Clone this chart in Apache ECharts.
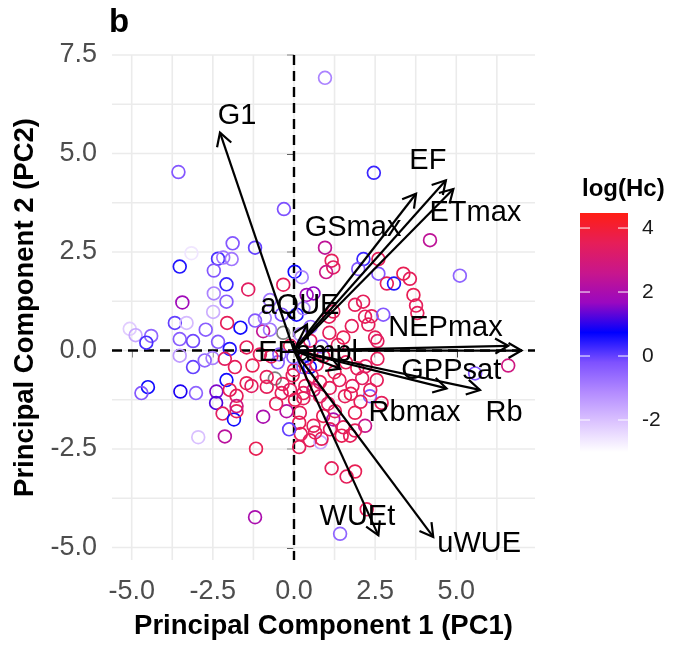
<!DOCTYPE html>
<html><head><meta charset="utf-8">
<script src="https://cdn.jsdelivr.net/npm/echarts@6/dist/echarts.min.js"></script>
<style>html,body{margin:0;padding:0;background:#fff}#c{width:677px;height:645px}</style>
</head><body><div id="c"></div>
<script>
// ---- data ----
const pc1 = [0.955,-3.56,-0.31,2.46,4.19,5.11,0.02,-1.89,-1.20,-3.16,-2.34,-2.18,-1.92,-3.52,-2.47,-2.08,-1.41,-0.33,-2.47,-3.44,-2.08,-2.49,-3.67,-3.31,-2.06,-1.65,-2.72,-5.06,-4.88,-4.40,-4.55,-3.52,-3.11,-2.34,-1.98,-1.46,-0.95,-0.74,-3.52,-3.11,-2.75,-2.51,-2.13,-1.82,-1.28,-0.04,-4.50,-4.70,-3.50,-3.02,-2.08,-2.39,-1.98,-1.77,-1.46,-1.31,-0.84,-2.40,-2.20,-1.85,-1.77,-0.95,-0.23,-2.95,-2.13,-1.17,0.16,0.21,0.16,-1.20,-0.38,-0.12,0.03,0.29,-1.77,-0.84,0.00,-0.90,-1.20,-0.74,-0.38,0.08,0.39,0.29,0.19,0.29,-0.12,-0.02,0.29,0.24,0.955,1.16,1.21,0.99,2.14,1.98,2.60,2.60,2.86,3.08,3.37,3.57,3.68,3.76,0.60,1.21,1.88,2.29,2.39,2.75,1.78,1.52,1.09,2.50,2.57,2.57,5.58,6.60,0.49,0.18,0.49,0.82,0.85,0.60,0.90,1.21,1.52,1.73,1.88,2.19,2.34,2.70,1.16,1.62,1.88,2.24,1.42,0.29,0.80,1.57,0.65,1.26,1.11,1.47,1.88,1.40,1.80,2.10,2.35,1.75,1.10,0.80,0.60,0.40,0.70,0.90,0.35,0.55,0.85,0.50,-0.50,-0.70,-0.35,1.08,2.19,0.51,1.35,2.13,3.80,1.95,2.20,1.25,1.60,2.55,1.05,2.05,-0.55,-0.15,-0.45,-1.05,-1.60];
const pc2 = [6.92,4.53,3.59,4.51,2.80,1.90,2.00,2.72,2.61,2.47,2.33,2.36,2.32,2.13,2.03,1.68,1.55,1.67,1.45,1.22,1.24,0.98,0.70,0.70,0.70,0.58,0.53,0.55,0.39,0.37,0.20,0.29,0.24,0.22,0.04,0.08,0.49,0.53,-0.13,-0.42,-0.25,-0.19,-0.21,-0.42,-0.38,-0.63,-0.93,-1.08,-1.04,-1.08,-0.75,-1.04,-1.00,-1.15,-0.83,-0.90,-0.92,-1.33,-1.60,-1.75,-1.54,-1.68,-1.54,-2.20,-2.18,-2.49,-2.45,-2.12,-1.83,-4.23,-1.08,-1.00,-1.25,-1.08,-1.41,-0.67,-0.50,0.83,0.76,1.28,0.91,0.91,1.41,1.07,0.41,0.16,0.12,-0.17,-0.42,1.86,2.61,2.28,2.11,1.99,2.32,2.07,2.32,1.95,1.70,1.70,1.95,1.82,1.41,1.14,1.45,0.99,1.16,0.66,0.87,0.91,0.62,0.33,0.45,0.33,0.24,-0.21,-0.58,-0.38,-0.42,-1.58,-2.28,-2.33,-2.24,-1.91,-1.66,-1.75,-1.95,-2.16,-1.58,-1.91,-1.16,-1.33,-2.99,-3.20,-3.07,-4.03,-4.65,-1.21,-1.16,-1.16,-2.08,-1.54,-2.00,-2.16,-2.03,-0.75,-0.90,-0.70,-1.00,-1.10,-0.95,-0.80,-1.00,-0.20,-0.35,-0.15,-0.90,-0.65,0.10,0.25,-0.30,-0.15,-0.85,0.86,0.86,0.60,0.14,1.24,0.95,-0.45,-0.40,-0.55,-0.30,-0.75,-1.35,-1.30,-1.35,-2.00,-0.10,-0.10,-0.75];
const logHc = [-1.0,-0.3,-0.2,0.3,2.4,-0.5,0.6,-0.3,0.0,-2.6,0.2,-0.8,-0.8,0.5,-0.3,0.3,3.4,3.5,-1.0,1.8,-0.4,-1.7,0.0,-1.9,3.5,0.6,-0.4,-2.2,-1.6,-0.5,0.2,-0.4,-0.1,-0.3,0.5,3.5,2.5,-0.8,-1.4,0.0,-0.5,-0.9,3.4,3.5,3.6,3.5,0.6,-0.3,0.9,-0.5,0.6,1.5,3.5,3.5,3.6,3.4,3.5,1.2,3.4,0.6,3.5,2.0,2.2,-2.0,2.3,3.6,3.5,3.5,3.6,2.0,3.5,3.4,3.6,3.5,2.8,3.5,3.5,-1.0,-0.3,-0.8,-0.2,0.5,1.8,-1.0,-1.2,-0.4,3.5,-0.3,-0.4,-1.0,2.4,3.5,3.4,2.7,0.3,-0.3,3.5,-0.3,3.5,0.5,3.6,3.5,3.6,3.5,1.6,3.5,3.5,3.5,3.5,-0.3,3.5,3.6,3.5,3.5,3.4,3.5,-0.3,2.8,0.6,3.5,3.5,-1.6,3.5,3.5,3.6,2.0,3.5,3.5,3.6,2.6,-0.3,3.5,3.5,3.5,3.6,3.5,-0.5,3.5,3.5,3.5,3.5,3.5,3.4,3.6,3.5,3.5,3.5,3.4,3.5,3.6,3.5,3.5,3.0,3.5,3.5,3.6,3.5,3.4,-0.3,3.5,-0.4,3.5,3.5,3.5,3.5,-0.5,3.5,3.5,3.5,3.5,3.4,3.6,3.5,3.5,3.4,3.5,3.5,0.0,-0.5,3.5];
const naPc1 = [-0.59,-0.33];
const naPc2 = [-0.71,0.45];

const loadingNames = ['G1','EF','ETmax','GSmax','aQUE','NEPmax','GPPsat','Rb','Rbmax','EFampl','WUEt','uWUE'];
const loadingPc1 = [-2.28,4.68,4.91,3.76,0.40,7.01,6.60,5.73,4.70,1.42,2.60,4.29];
const loadingPc2 = [5.53,4.32,4.10,3.98,0.66,0.00,0.12,-1.00,-0.96,-0.46,-4.69,-4.73];

const xTicks = [-5,-2.5,0,2.5,5];
const yTicks = [-5,-2.5,0,2.5,5,7.5];
const xMinor = [-3.75,-1.25,1.25,3.75,6.25];
const yMinor = [-3.75,-1.25,1.25,3.75,6.25];
const legendTicks = [4,2,0,-2];
const legendMin = -3.0, legendMax = 4.47;

// ---- layout / style ----
const FONT = '"Liberation Sans", Arial, sans-serif';
const labelOffset = {G1:[17,-17],EF:[-18,-19],ETmax:[22,24],GSmax:[-63,34],aQUE:[-7,-19],NEPmax:[-76,-23],GPPsat:[-57,25],Rb:[24,23],Rbmax:[-32,25],EFampl:[-32,-16],WUEt:[-21,-18],uWUE:[46,7]};
const gradColors = ['#FFFFFF','#DCC4FF','#B38BFF','#7E51FF','#0000FF','#9A08C0','#C8168C','#E61E58','#FF1E14'];
const X0 = -5.607, X1 = 7.425, Y0 = -5.316, Y1 = 7.5;
const GRID = {left:112, top:55, width:423, height:515};

const chart = echarts.init(document.getElementById('c'), null, {renderer:'canvas'});

function vLine(color, width, dash){
  return function(params, api){
    const cs = params.coordSys;
    const x = api.coord([api.value(0), 0])[0];
    return {type:'line', shape:{x1:x, y1:cs.y, x2:x, y2:cs.y+cs.height},
      style:{stroke:color, lineWidth:width, lineDash:dash||null}};
  };
}
function hLine(color, width, dash){
  return function(params, api){
    const cs = params.coordSys;
    const y = api.coord([0, api.value(1)])[1];
    return {type:'line', shape:{x1:cs.x, y1:y, x2:cs.x+cs.width, y2:y},
      style:{stroke:color, lineWidth:width, lineDash:dash||null}};
  };
}
const pointData = pc1.map((x,i)=>[x, pc2[i], logHc[i]]);
const naData = naPc1.map((x,i)=>[x, naPc2[i]]);
const loadData = loadingNames.map((n,i)=>[loadingPc1[i], loadingPc2[i], n]);

function circle(colorFn){
  return function(params, api){
    const p = api.coord([api.value(0), api.value(1)]);
    return {type:'circle', shape:{cx:p[0], cy:p[1], r:6.4},
      style:{fill:'none', stroke:colorFn(api), lineWidth:1.7}};
  };
}

const legendTop = 213, legendH = 239, legendLeft = 580, legendW = 48;
const graphics = [
  {type:'rect', left:legendLeft, top:legendTop, shape:{width:legendW, height:legendH},
   style:{fill:new echarts.graphic.LinearGradient(0,0,0,1,
     gradColors.slice().reverse().map((c,i,a)=>({offset:i/(a.length-1), color:c})))}},
  {type:'text', left:582, top:177, style:{text:'log(Hc)', font:'bold 24px '+FONT, fill:'#000'}}
];
legendTicks.forEach(v=>{
  const y = legendTop + (legendMax - v)/(legendMax-legendMin)*legendH;
  graphics.push({type:'line', shape:{x1:legendLeft, y1:y, x2:legendLeft+10, y2:y}, style:{stroke:'#fff', lineWidth:1}});
  graphics.push({type:'line', shape:{x1:legendLeft+legendW-10, y1:y, x2:legendLeft+legendW, y2:y}, style:{stroke:'#fff', lineWidth:1}});
  graphics.push({type:'text', x:642, y:y, style:{text:String(v), font:'21px '+FONT, fill:'#1a1a1a', textVerticalAlign:'middle', verticalAlign:'middle'}});
});

const option = {
  backgroundColor:'#fff',
  animation:false,
  title:{text:'b', left:109, top:6, padding:0, textStyle:{fontSize:33, fontWeight:'bold', color:'#000', fontFamily:FONT}},
  grid:GRID,
  xAxis:{type:'value', min:X0, max:X1,
    name:'Principal Component 1 (PC1)', nameLocation:'middle', nameGap:52,
    nameTextStyle:{fontSize:27.5, fontWeight:'bold', color:'#000', fontFamily:FONT},
    axisLine:{show:false}, splitLine:{show:false},
    axisTick:{show:true, customValues:xTicks, length:7, lineStyle:{color:'#333', width:2}},
    axisLabel:{customValues:xTicks, formatter:v=>v.toFixed(1), fontSize:27, color:'#4d4d4d', fontFamily:FONT, margin:18}},
  yAxis:{type:'value', min:Y0, max:Y1,
    name:'Principal Component 2 (PC2)', nameLocation:'middle', nameGap:72,
    nameTextStyle:{fontSize:27.5, fontWeight:'bold', color:'#000', fontFamily:FONT},
    axisLine:{show:false}, splitLine:{show:false},
    axisTick:{show:true, customValues:yTicks, length:7, lineStyle:{color:'#333', width:2}},
    axisLabel:{customValues:yTicks, formatter:v=>v.toFixed(1), fontSize:27, color:'#4d4d4d', fontFamily:FONT, margin:15}},
  visualMap:{type:'continuous', show:false, seriesIndex:6, dimension:2, min:legendMin, max:legendMax,
    inRange:{color:gradColors}},
  graphic:graphics,
  series:[
    {type:'custom', silent:true, z:1, renderItem:vLine('#ebebeb',1.6), data:xTicks.concat(xMinor).map(v=>[v,0])},
    {type:'custom', silent:true, z:1, renderItem:hLine('#ebebeb',1.6), data:yTicks.concat(yMinor).map(v=>[0,v])},
    {type:'custom', silent:true, z:2, renderItem:vLine('#000',2.4,[10,6]), data:[[0,0]]},
    {type:'custom', silent:true, z:2, renderItem:hLine('#000',2.4,[10,6]), data:[[0,0]]},
    {type:'custom', silent:true, z:3, renderItem:circle(()=>'#7f7f7f'), data:naData},
    {type:'custom', silent:true, z:3, renderItem:function(){return null;}, data:[]},
    {type:'custom', silent:true, z:3, renderItem:circle(api=>api.visual('color')), data:pointData},
    {type:'custom', silent:true, z:4, data:loadData,
     renderItem:function(params, api){
       const p0 = api.coord([0,0]);
       const p1 = api.coord([api.value(0), api.value(1)]);
       const a = Math.atan2(p1[1]-p0[1], p1[0]-p0[0]);
       const L = 15, h = Math.PI/6;
       const b1 = [p1[0]-L*Math.cos(a-h), p1[1]-L*Math.sin(a-h)];
       const b2 = [p1[0]-L*Math.cos(a+h), p1[1]-L*Math.sin(a+h)];
       return {type:'group', children:[
         {type:'line', shape:{x1:p0[0], y1:p0[1], x2:p1[0], y2:p1[1]}, style:{stroke:'#000', lineWidth:2.2}},
         {type:'polyline', shape:{points:[b1,p1,b2]}, style:{stroke:'#000', lineWidth:2.2, fill:'none'}}
       ]};
     }},
    {type:'custom', silent:true, z:5, data:loadData,
     renderItem:function(params, api){
       const name = loadingNames[params.dataIndex];
       const p1 = api.coord([api.value(0), api.value(1)]);
       const off = labelOffset[name] || [0,0];
       return {type:'text', x:p1[0]+off[0], y:p1[1]+off[1],
         style:{text:name, fill:'#000', font:'29px '+FONT, align:'center', verticalAlign:'middle', textAlign:'center', textVerticalAlign:'middle'}};
     }}
  ]
};
chart.setOption(option);
</script></body></html>
